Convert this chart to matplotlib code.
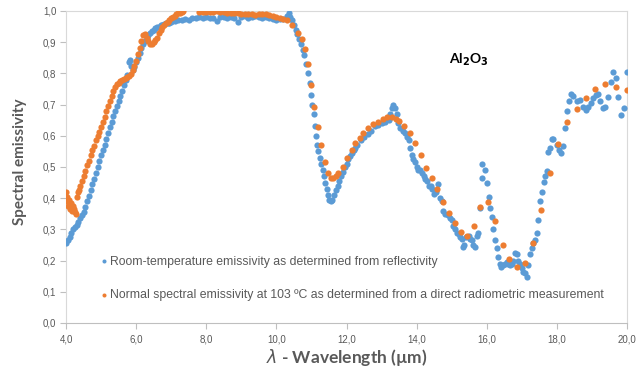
import matplotlib
matplotlib.use("Agg")
import matplotlib.pyplot as plt
from matplotlib.ticker import FuncFormatter, MultipleLocator

# room-temperature emissivity (from reflectivity)
blue_x = [4.00, 4.05, 4.10, 4.15, 4.20, 4.25, 4.30, 4.35, 4.40, 4.45, 4.50, 4.55, 4.60, 4.65, 4.70,
          4.75, 4.80, 4.85, 4.90, 4.95, 5.00, 5.05, 5.10, 5.15, 5.20, 5.25, 5.30, 5.35, 5.40, 5.45,
          5.50, 5.55, 5.60, 5.65, 5.70, 5.75, 5.80, 5.83, 5.86, 5.90, 5.95, 6.00, 6.05, 6.10, 6.15,
          6.20, 6.25, 6.30, 6.35, 6.40, 6.45, 6.50, 6.55, 6.60, 6.65, 6.70, 6.75, 6.80, 6.85, 6.90,
          6.95, 7.00, 7.10, 7.20, 7.30, 7.40, 7.50, 7.60, 7.70, 7.80, 7.90, 8.00, 8.10, 8.20, 8.30,
          8.40, 8.50, 8.60, 8.70, 8.80, 8.90, 9.00, 9.10, 9.20, 9.30, 9.40, 9.50, 9.60, 9.70, 9.80,
          9.90, 10.00, 10.10, 10.20, 10.30, 10.35, 10.40, 10.45, 10.50, 10.55, 10.60, 10.65, 10.70,
          10.75, 10.80, 10.85, 10.90, 10.95, 11.00, 11.03, 11.06, 11.10, 11.13, 11.17, 11.20, 11.24,
          11.28, 11.32, 11.36, 11.40, 11.43, 11.46, 11.50, 11.55, 11.60, 11.65, 11.70, 11.75, 11.80,
          11.85, 11.90, 11.95, 12.00, 12.05, 12.10, 12.15, 12.20, 12.25, 12.30, 12.40, 12.50, 12.60,
          12.70, 12.80, 12.90, 13.00, 13.10, 13.20, 13.25, 13.30, 13.33, 13.38, 13.43, 13.48, 13.53,
          13.60, 13.67, 13.72, 13.77, 13.82, 13.86, 13.90, 13.95, 14.00, 14.05, 14.10, 14.15, 14.20,
          14.25, 14.30, 14.35, 14.40, 14.45, 14.50, 14.55, 14.62, 14.67, 14.72, 14.76, 14.82, 14.90,
          14.95, 15.00, 15.05, 15.10, 15.14, 15.20, 15.25, 15.29, 15.33, 15.36, 15.42, 15.48, 15.52,
          15.57, 15.62, 15.67, 15.72, 15.76, 15.81, 15.86, 15.86, 15.95, 16.00, 16.05, 16.10, 16.14,
          16.19, 16.24, 16.28, 16.33, 16.38, 16.42, 16.47, 16.52, 16.57, 16.62, 16.67, 16.71, 16.76,
          16.81, 16.86, 16.90, 16.95, 17.00, 17.04, 17.09, 17.14, 17.19, 17.24, 17.29, 17.33, 17.38,
          17.43, 17.47, 17.52, 17.57, 17.62, 17.66, 17.71, 17.76, 17.81, 17.86, 17.90, 18.00, 18.07,
          18.11, 18.17, 18.23, 18.28, 18.36, 18.40, 18.47, 18.57, 18.66, 18.74, 18.83, 18.90, 18.97,
          19.04, 19.12, 19.18, 19.23, 19.31, 19.37, 19.45, 19.53, 19.61, 19.68, 19.75, 19.82, 19.92,
          19.99]
blue_y = [0.255, 0.265, 0.275, 0.288, 0.300, 0.308, 0.315, 0.325, 0.335, 0.345, 0.355, 0.372, 0.392,
          0.408, 0.425, 0.445, 0.462, 0.480, 0.500, 0.520, 0.540, 0.555, 0.572, 0.590, 0.610, 0.628,
          0.645, 0.662, 0.680, 0.695, 0.712, 0.728, 0.745, 0.762, 0.778, 0.795, 0.835, 0.843, 0.825,
          0.810, 0.820, 0.835, 0.850, 0.865, 0.880, 0.895, 0.905, 0.915, 0.922, 0.930, 0.935, 0.940,
          0.945, 0.948, 0.950, 0.955, 0.955, 0.958, 0.960, 0.962, 0.962, 0.965, 0.968, 0.970, 0.972,
          0.975, 0.972, 0.978, 0.976, 0.980, 0.978, 0.982, 0.979, 0.976, 0.968, 0.980, 0.982, 0.978,
          0.981, 0.976, 0.965, 0.980, 0.983, 0.979, 0.982, 0.985, 0.981, 0.978, 0.982, 0.976, 0.974,
          0.972, 0.975, 0.973, 0.985, 0.995, 0.980, 0.970, 0.955, 0.940, 0.925, 0.910, 0.895, 0.875,
          0.860, 0.830, 0.800, 0.770, 0.730, 0.700, 0.670, 0.630, 0.600, 0.570, 0.550, 0.530, 0.510,
          0.490, 0.470, 0.450, 0.430, 0.410, 0.395, 0.390, 0.395, 0.410, 0.425, 0.440, 0.455, 0.470,
          0.485, 0.500, 0.510, 0.525, 0.535, 0.545, 0.555, 0.560, 0.570, 0.585, 0.595, 0.605, 0.615,
          0.630, 0.635, 0.640, 0.645, 0.650, 0.670, 0.690, 0.700, 0.690, 0.670, 0.640, 0.625, 0.615,
          0.610, 0.595, 0.585, 0.560, 0.540, 0.525, 0.515, 0.500, 0.490, 0.490, 0.480, 0.470, 0.460,
          0.455, 0.440, 0.440, 0.430, 0.415, 0.420, 0.445, 0.400, 0.390, 0.360, 0.350, 0.345, 0.335,
          0.330, 0.310, 0.300, 0.290, 0.285, 0.275, 0.270, 0.245, 0.250, 0.275, 0.280, 0.270, 0.265,
          0.250, 0.245, 0.280, 0.290, 0.370, 0.510, 0.465, 0.490, 0.450, 0.405, 0.370, 0.340, 0.300,
          0.265, 0.240, 0.210, 0.190, 0.180, 0.185, 0.190, 0.195, 0.190, 0.185, 0.190, 0.200, 0.225,
          0.220, 0.200, 0.190, 0.175, 0.165, 0.160, 0.148, 0.185, 0.220, 0.240, 0.255, 0.265, 0.290,
          0.330, 0.390, 0.420, 0.453, 0.470, 0.488, 0.547, 0.560, 0.590, 0.590, 0.570, 0.554, 0.544,
          0.567, 0.626, 0.680, 0.712, 0.734, 0.729, 0.710, 0.715, 0.693, 0.683, 0.693, 0.704, 0.720,
          0.731, 0.733, 0.710, 0.688, 0.693, 0.723, 0.774, 0.803, 0.784, 0.723, 0.667, 0.688, 0.806]

# normal spectral emissivity at 103 C (direct radiometric measurement)
orange_x = [4.00, 4.02, 4.04, 4.06, 4.08, 4.10, 4.12, 4.14, 4.16, 4.18, 4.20, 4.22, 4.25, 4.28, 4.30,
            4.33, 4.36, 4.40, 4.45, 4.50, 4.55, 4.60, 4.65, 4.70, 4.75, 4.80, 4.85, 4.90, 4.95, 5.00,
            5.05, 5.10, 5.15, 5.20, 5.25, 5.30, 5.35, 5.40, 5.45, 5.50, 5.55, 5.60, 5.65, 5.70, 5.75,
            5.80, 5.85, 5.90, 5.95, 6.00, 6.05, 6.10, 6.15, 6.20, 6.25, 6.30, 6.35, 6.40, 6.45, 6.50,
            6.55, 6.60, 6.65, 6.70, 6.75, 6.80, 6.85, 6.90, 6.95, 7.00, 7.05, 7.10, 7.15, 7.20, 7.25,
            7.30, 7.35, 7.80, 7.90, 8.00, 8.10, 8.20, 8.30, 8.40, 8.50, 8.60, 8.70, 8.80, 8.90, 9.00,
            9.10, 9.20, 9.30, 9.40, 9.50, 9.60, 9.70, 9.80, 9.90, 10.00, 10.10, 10.20, 10.30, 10.44,
            10.63, 10.72, 10.82, 10.91, 10.99, 11.08, 11.18, 11.27, 11.38, 11.47, 11.55, 11.62, 11.70,
            11.77, 11.91, 12.00, 12.15, 12.24, 12.39, 12.48, 12.62, 12.77, 12.91, 13.05, 13.16, 13.29,
            13.41, 13.51, 13.65, 13.81, 13.95, 14.12, 14.27, 14.43, 14.57, 14.74, 14.92, 15.10, 15.27,
            15.44, 15.63, 15.82, 16.04, 16.24, 16.45, 16.64, 16.86, 17.09, 17.32, 17.54, 17.79, 18.04,
            18.30, 18.57, 18.83, 19.10, 19.38, 19.68, 19.99]
orange_y = [0.420, 0.405, 0.390, 0.375, 0.395, 0.380, 0.365, 0.385, 0.370, 0.360, 0.375, 0.365, 0.355,
            0.350, 0.405, 0.420, 0.425, 0.440, 0.455, 0.470, 0.488, 0.505, 0.520, 0.537, 0.553, 0.568,
            0.585, 0.600, 0.612, 0.628, 0.645, 0.660, 0.678, 0.695, 0.712, 0.728, 0.745, 0.757, 0.765,
            0.770, 0.775, 0.778, 0.782, 0.785, 0.788, 0.792, 0.797, 0.810, 0.825, 0.840, 0.862, 0.883,
            0.905, 0.922, 0.925, 0.915, 0.905, 0.895, 0.895, 0.900, 0.908, 0.915, 0.930, 0.940, 0.948,
            0.955, 0.960, 0.966, 0.972, 0.977, 0.981, 0.985, 0.989, 0.992, 0.995, 0.997, 0.999, 0.998,
            0.997, 0.996, 0.997, 0.998, 0.999, 0.998, 0.997, 0.995, 0.994, 0.993, 0.992, 0.991, 0.990,
            0.990, 0.989, 0.988, 0.990, 0.991, 0.990, 0.987, 0.984, 0.980, 0.978, 0.975, 0.970, 0.955,
            0.928, 0.910, 0.877, 0.829, 0.763, 0.693, 0.629, 0.571, 0.517, 0.480, 0.466, 0.464, 0.470,
            0.480, 0.500, 0.528, 0.554, 0.576, 0.592, 0.610, 0.624, 0.637, 0.645, 0.653, 0.661, 0.661,
            0.653, 0.647, 0.631, 0.608, 0.576, 0.538, 0.498, 0.464, 0.428, 0.389, 0.354, 0.319, 0.291,
            0.280, 0.310, 0.373, 0.388, 0.326, 0.250, 0.204, 0.178, 0.191, 0.255, 0.362, 0.480, 0.574,
            0.643, 0.686, 0.721, 0.749, 0.766, 0.758, 0.747]

blue_label = "Room-temperature emissivity as determined from reflectivity"
orange_label = "Normal spectral emissivity at 103 \u00baC as determined from a direct radiometric measurement"

grey = "#595959"
sans = ["Liberation Sans", "DejaVu Sans"]

fig = plt.figure(figsize=(6.37, 3.74), dpi=100)
ax = fig.add_axes([66/637, 1 - 323/374, 561/637, 312/374])

ax.scatter(blue_x, blue_y, s=20, color="#5B9BD5", linewidths=0, label=blue_label, zorder=3)
ax.scatter(orange_x, orange_y, s=20, color="#ED7D31", linewidths=0, label=orange_label, zorder=4)

ax.set_xlim(4, 20)
ax.set_ylim(0, 1)
ax.xaxis.set_major_locator(MultipleLocator(2))
ax.yaxis.set_major_locator(MultipleLocator(0.1))
comma = FuncFormatter(lambda v, p: f"{v:.1f}".replace(".", ","))
ax.xaxis.set_major_formatter(comma)
ax.yaxis.set_major_formatter(comma)

for s in ax.spines.values():
    s.set_color("#D9D9D9")
    s.set_linewidth(0.8)
ax.spines["bottom"].set_color("#BFBFBF")
ax.tick_params(axis="both", colors="#BFBFBF", labelcolor=grey, length=4, width=0.8, labelsize=7)
ax.tick_params(axis="x", pad=4)
ax.tick_params(axis="y", pad=3)
for lab in ax.get_xticklabels() + ax.get_yticklabels():
    lab.set_family(sans)

ax.set_ylabel("Spectral emissivity", fontsize=11, fontweight="bold", color=grey, family="Lato",
              va="center")
ax.yaxis.set_label_coords(-0.082, 0.516)
ax.set_xlabel("$\\lambda$ - Wavelength (\u00b5m)", fontsize=12.5, fontweight="bold", color=grey,
              family="Lato", va="center")
ax.xaxis.set_label_coords(0.5, -0.109)

ax.text(15.5, 0.843, r"Al$_\mathbf{2}$O$_\mathbf{3}$", fontsize=10, fontweight="bold",
        ha="center", va="center", family="Lato")

leg = ax.legend(loc="lower left", bbox_to_anchor=(0.037, 0.035), frameon=False, handletextpad=0.0,
                labelspacing=1.75, handlelength=1.0, markerscale=0.65,
                prop={"family": sans, "size": 8.8})
for t in leg.get_texts():
    t.set_color(grey)

fig.savefig("out.png", dpi=100)
